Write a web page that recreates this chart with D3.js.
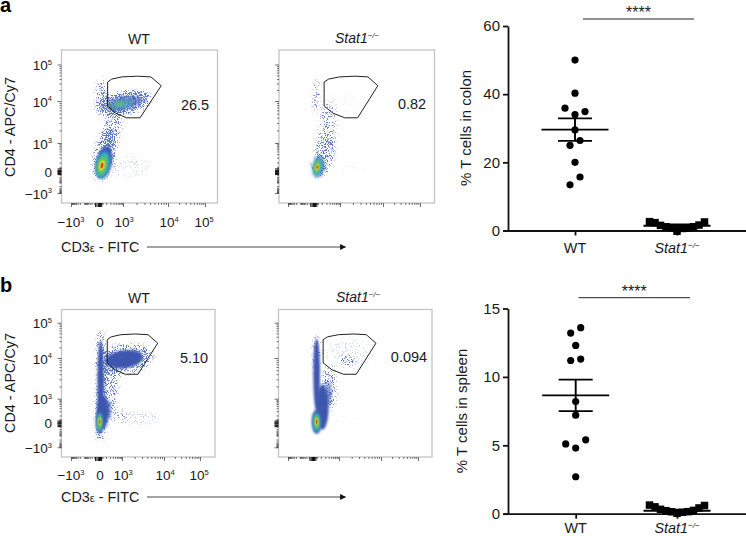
<!DOCTYPE html>
<html><head><meta charset="utf-8">
<script src="https://cdn.jsdelivr.net/npm/d3@7"></script>
<style>html,body{margin:0;padding:0;background:#fff}svg{display:block}text{font-family:"Liberation Sans",Arial,sans-serif;fill:#1a1a1a}</style>
</head><body><svg id="c" width="746" height="536"></svg>
<script>
// ---- data ----
const flowTicks = [-1, 0, 1, 2, 3];               // channels: -10^3, 0, 10^3, 10^4, 10^5
const flowTickLabels = [["\u221210","3"],["0",""],["10","3"],["10","4"],["10","5"]];
const gate = [[.36,2.52],[.53,2.6],[.95,2.66],[1.32,2.68],[1.62,2.66],[1.85,2.42],[1.38,1.6],[1.08,1.6],[.7,1.71],[.36,1.88]];
// density blobs: [cx, cy, rx, ry, rotation, density level]  (channel units)
// number = stippled event density; letters = dense colour bands of the pseudocolour plot
const blobsA_WT = [
 [1.02,1.95,.6,.3,-12,.66],[.1,2.12,.2,.5,0,.42],[.55,1.32,.34,.72,10,.4],[.25,.6,.42,.78,12,.5],[1.15,.15,.45,.42,0,.08],
 [1.02,1.95,.42,.17,-10,"bs"],[.95,1.93,.3,.1,-10,"cs"],[.85,1.93,.18,.055,-10,"gs"],
 [.2,.3,.33,.58,12,"b"],[.16,.22,.27,.48,12,"c"],[.13,.2,.19,.34,12,"g"],[.125,.2,.11,.2,12,"y"],[.125,.2,.05,.1,12,"r"]];
const blobsA_KO = [
 [.1,2.12,.13,.48,0,.34],[.5,1.3,.34,.72,5,.28],[.4,.6,.36,.6,8,.36],[.2,.1,.3,.3,8,.45],[1.3,.1,.3,.2,0,.03],[1.1,2.0,.4,.25,0,.03],
 [.18,.16,.22,.4,8,"bs"],[.14,.14,.17,.33,8,"c"],[.12,.14,.11,.23,8,"g"],[.12,.14,.06,.13,8,"y"],[.12,.14,.03,.065,8,"r"]];
const blobsB_WT = [
 [1.05,1.97,.68,.4,-8,.5],[.07,2.35,.14,.42,0,.55],[.12,1.1,.2,1.2,2,.7],[.5,1.25,.34,.6,8,.36],[.6,.3,.5,.35,0,.22],[1.4,.18,.45,.3,0,.12],
 [1.05,1.97,.45,.25,-8,"b"],[.07,1.35,.14,1.15,0,"b"],[.16,.42,.27,.65,2,"b"],[.42,.55,.12,.4,0,"bs"],
 [.03,.04,.17,.5,0,"b"],[.03,.02,.12,.4,0,"c"],[.03,.03,.085,.28,0,"g"],[.03,.04,.05,.17,0,"y"],[.03,.04,.025,.08,0,"r"]];
const blobsB_KO = [
 [.14,2.1,.13,.55,0,.45],[.62,1.25,.26,.55,0,.4],[1.1,.1,.35,.2,0,.03],[1.2,2.1,.6,.42,0,.09],[1.21,1.95,.17,.12,0,.5],
 [.14,1.6,.13,.95,0,"b"],[.36,.65,.24,.7,0,"b"],[.6,1.15,.11,.28,0,"bs"],
 [.14,.04,.19,.5,0,"b"],[.14,.02,.14,.4,0,"c"],[.14,.03,.09,.28,0,"g"],[.14,.04,.05,.17,0,"y"],[.14,.04,.025,.08,0,"r"]];

const categories = ["WT","Stat1"];
const colonWT     = [50,40.3,35.9,34.9,34,29.5,26.4,25,20,15.7,13.4];
const colonWTSlot = [0,0,-2,2,0,0,1,-1,0,1,-1];
const colonKO     = [2.6,2.3,1.5,1.1,.8,-.2,.6,.8,1.1,1.6,2.5];
const spleenWT     = [13.6,13.2,12.3,11.3,11.2,8.2,7.2,5.4,5.1,4.8,2.7];
const spleenWTSlot = [1,-1,0,1,-1,0,0,2,-2,0,0];
const spleenKO     = [.63,.5,.32,.22,.14,.03,.1,.15,.24,.42,.6];
const koSlot       = [-5.5,-4.4,-3.3,-2.2,-1.1,0,1.1,2.2,3.3,4.4,5.5];
const colonStats  = {WT:[29.6,26.3,32.9], KO:[1.4,.9,1.8]};
const spleenStats = {WT:[8.65,7.5,9.8],   KO:[.22,.14,.3]};

// ---- layout ----
const svg = d3.select("#c");
const defs = svg.append("defs");
const levelColor = {b:"#3c56ae",bs:"#3c56ae",c:"#35b5c8",cs:"#3fb0c0",g:"#62c04e",gs:"#68c06a",y:"#f2dc2e",r:"#e4301f"};
const levelOpacity = {bs:.6,cs:.6,gs:.75};
const blurBy = {b:1.2,bs:1.8,c:1.4,cs:1.6,g:1.3,gs:1.4,y:1,r:.7};

const blur = (id,s)=>defs.append("filter").attr("id",id).attr("x","-60%").attr("y","-60%").attr("width","220%").attr("height","220%")
  .append("feGaussianBlur").attr("stdDeviation",s);
Object.entries(blurBy).forEach(([k,s])=>blur("blur"+k,s));

// stippled density: blurred alpha + fine noise, thresholded into single-pixel events
const f = defs.append("filter").attr("id","stipple").attr("filterUnits","userSpaceOnUse")
  .attr("x",0).attr("y",0).attr("width",746).attr("height",536).attr("color-interpolation-filters","sRGB");
f.append("feGaussianBlur").attr("in","SourceGraphic").attr("stdDeviation",2.4).attr("result","den");
f.append("feTurbulence").attr("type","fractalNoise").attr("baseFrequency",1.1).attr("numOctaves",2).attr("seed",7).attr("result","n0");
f.append("feColorMatrix").attr("in","n0").attr("type","matrix")
  .attr("values","0 0 0 0 0  0 0 0 0 0  0 0 0 0 0  3.2 0 0 0 -1.1").attr("result","noise");
f.append("feComposite").attr("in","den").attr("in2","noise").attr("operator","arithmetic")
  .attr("k1",0).attr("k2",1).attr("k3",.95).attr("k4",-.95).attr("result","sum");
const ct = f.append("feComponentTransfer").attr("in","sum").attr("result","dots");
ct.append("feFuncA").attr("type","linear").attr("slope",3.5).attr("intercept",0);
f.append("feFlood").attr("flood-color","#5a76c4").attr("result","col");
f.append("feComposite").attr("in","col").attr("in2","dots").attr("operator","in");

function sup(sel, base, exp, italic){
  if(italic){ sel.append("tspan").attr("font-style","italic").text(base); }
  else sel.append("tspan").text(base);
  if(exp){
    const fs = parseFloat(sel.attr("font-size"));
    sel.append("tspan").attr("font-size",fs*.56).attr("dy",-fs*.38).attr("font-style",italic?"italic":null).text(exp);
  }
}
const KO_SUP = "\u2212/\u2212";

function logMinor(lo,hi){
  const out=[];
  for(let d=lo;d<hi;d++) for(let k=2;k<10;k++) out.push(d+Math.log10(k));
  return out;
}
const minorX = logMinor(1,3);
const negMinor = d3.range(2,10).map(k=>-Math.log10(k)*.55).concat(d3.range(2,10).map(k=>-.55-Math.log10(k)*.45));
const posLow = d3.range(2,10).map(k=>Math.log10(k)).concat([.05,.1,.15]);

function flow(cfg){
  const x = d3.scaleLinear().domain(flowTicks).range(cfg.xr);
  const y = d3.scaleLinear().domain(flowTicks).range(cfg.yr);
  const [L,R,T,B] = cfg.box;
  const g = svg.append("g");
  const clipId = "clip"+cfg.id;
  defs.append("clipPath").attr("id",clipId).append("rect").attr("x",L).attr("y",T).attr("width",R-L).attr("height",B-T);

  const ell = (sel,d)=>sel.attr("cx",x(d[0])).attr("cy",y(d[1]))
     .attr("rx",Math.abs(x(d[0]+d[2])-x(d[0]))).attr("ry",Math.abs(y(d[1]+d[3])-y(d[1])))
     .attr("transform",`rotate(${d[4]} ${x(d[0])} ${y(d[1])})`);

  const plot = g.append("g").attr("clip-path",`url(#${clipId})`);
  const sparse = plot.append("g").attr("filter","url(#stipple)");
  cfg.blobs.filter(d=>typeof d[5]==="number").forEach(d=>{
    sparse.append("ellipse").call(ell,d).attr("fill","#000").attr("fill-opacity",d[5]);
  });
  cfg.blobs.filter(d=>typeof d[5]==="string").forEach(d=>{
    plot.append("ellipse").call(ell,d).attr("fill",levelColor[d[5]])
      .attr("fill-opacity",levelOpacity[d[5]]||1).attr("filter",`url(#blur${d[5]})`);
  });

  g.append("rect").attr("x",L).attr("y",T).attr("width",R-L).attr("height",B-T)
    .attr("fill","none").attr("stroke","#c4c4c4").attr("stroke-width",1.3);

  const minorAll = [...negMinor,...posLow,...minorX];
  const ax = g.append("g").attr("transform",`translate(0,${B})`)
     .call(d3.axisBottom(x).tickValues(flowTicks).tickSize(4).tickFormat(""));
  const axm = g.append("g").attr("transform",`translate(0,${B})`)
     .call(d3.axisBottom(x).tickValues(minorAll.filter(v=>x(v)>L && x(v)<R)).tickSize(2).tickFormat(""));
  const ay = g.append("g").attr("transform",`translate(${L},0)`)
     .call(d3.axisLeft(y).tickValues(flowTicks).tickSize(4).tickFormat(""));
  const aym = g.append("g").attr("transform",`translate(${L},0)`)
     .call(d3.axisLeft(y).tickValues(minorAll.filter(v=>y(v)>T && y(v)<B)).tickSize(2).tickFormat(""));
  [ax,axm,ay,aym].forEach(a=>{a.select(".domain").remove(); a.selectAll("line").attr("stroke","#333").attr("stroke-width",.7);});
  const clump=[-.14,-.09,-.04,0,.04,.09];
  const cx = g.append("g").attr("transform",`translate(0,${B})`).call(d3.axisBottom(x).tickValues(clump).tickSize(4).tickFormat(""));
  const cy = g.append("g").attr("transform",`translate(${L},0)`).call(d3.axisLeft(y).tickValues(clump).tickSize(4).tickFormat(""));
  [cx,cy].forEach(a=>{a.select(".domain").remove(); a.selectAll("line").attr("stroke","#111").attr("stroke-width",1);});

  if(cfg.labels){
    flowTicks.forEach((t,i)=>{
      const [b,e]=flowTickLabels[i];
      g.append("text").attr("font-size",13.5).attr("text-anchor","middle").attr("x",x(t)+(i==0?0:i==1?1:i==4?-1:1)).attr("y",cfg.xLabY).call(sup,b,e);
      g.append("text").attr("font-size",13.5).attr("text-anchor","end").attr("x",cfg.yLabX).attr("y",y(t)+5.5).call(sup,b,e);
    });
  }
  g.append("path").attr("d",d3.line().x(d=>x(d[0]+cfg.gdx)).y(d=>y(d[1])).curve(d3.curveLinearClosed)(gate))
    .attr("fill","none").attr("stroke","#222").attr("stroke-width",1);
  const title = g.append("text").attr("font-size",14).attr("text-anchor","middle").attr("x",cfg.titleX).attr("y",cfg.titleY);
  if(cfg.ko) title.call(sup,"Stat1",KO_SUP,true); else title.text("WT");
  g.append("text").attr("font-size",14.5).attr("text-anchor","middle").attr("x",cfg.pctX).attr("y",cfg.pctY).text(cfg.pct);
}

flow({id:"a1",xr:[71,99,123,168,205],yr:[193,171,143,101,64.5],box:[61.5,217.5,50,203],blobs:blobsA_WT,labels:true,xLabY:227,yLabX:52,gdx:0,titleX:139,titleY:44,pct:"26.5",pctX:195,pctY:110});
flow({id:"a2",xr:[288,314,340,383,420],yr:[193,171,143,101,64.5],box:[279,434.5,50,203],blobs:blobsA_KO,labels:false,gdx:.03,titleX:357,titleY:43,pct:"0.82",pctX:412,pctY:109,ko:true});
flow({id:"b1",xr:[71,99,122,164,200],yr:[447.3,422.7,398.7,358,322.7],box:[61.5,215,309.5,457],blobs:blobsB_WT,labels:true,xLabY:480,yLabX:52,gdx:0,titleX:139,titleY:303,pct:"5.10",pctX:194,pctY:363});
flow({id:"b2",xr:[288,313,339,381,418],yr:[447.3,422.7,398.7,358,322.7],box:[278.5,432,309.5,457],blobs:blobsB_KO,labels:false,gdx:.03,titleX:358,titleY:302,pct:"0.094",pctX:409,pctY:362,ko:true});

// shared flow labels
[127,383].forEach(cy=>{
  svg.append("text").attr("font-size",14.4).attr("text-anchor","middle")
    .attr("transform",`translate(14.5,${cy}) rotate(-90)`).text("CD4 - APC/Cy7");
});
defs.append("marker").attr("id","arrow").attr("viewBox","0 0 10 10").attr("refX",9).attr("refY",5)
  .attr("markerWidth",6).attr("markerHeight",6).attr("markerUnits","userSpaceOnUse").attr("orient","auto")
  .append("path").attr("d","M0 0L10 5L0 10Z").attr("fill","#111");
[252,502].forEach(yy=>{
  const t = svg.append("text").attr("font-size",14.4).attr("x",61).attr("y",yy);
  t.append("tspan").text("CD3");
  t.append("tspan").attr("font-size",11).text("\u03b5");
  t.append("tspan").text(" - FITC");
  svg.append("line").attr("x1",147).attr("x2",345.5).attr("y1",yy-5).attr("y2",yy-5)
    .attr("stroke","#333").attr("stroke-width",.9).attr("marker-end","url(#arrow)");
});
svg.append("text").attr("x",0).attr("y",12).attr("font-size",20).attr("font-weight","bold").style("fill","#000").text("a");
svg.append("text").attr("x",0).attr("y",292).attr("font-size",20).attr("font-weight","bold").style("fill","#000").text("b");

// dot plots
function dots(cfg){
  const g = svg.append("g");
  const y = d3.scaleLinear().domain(cfg.domain).range(cfg.yr);
  const xc = d3.scalePoint().domain(categories).range(cfg.xc);
  const slot = d3.scaleLinear().domain([-1,1]).range([-5,5]);
  const axisY = g.append("g").attr("transform",`translate(${cfg.axX},0)`)
    .call(d3.axisLeft(y).tickValues(cfg.ticks).tickSize(5).tickSizeOuter(0).tickPadding(3));
  axisY.select(".domain").attr("stroke-width",1.8).attr("stroke","#111");
  axisY.selectAll("line").attr("stroke-width",1.8).attr("stroke","#111");
  axisY.selectAll("text").attr("font-size",15).style("font-family",'"Liberation Sans",Arial,sans-serif').style("fill","#1a1a1a");
  const xb = d3.scaleLinear().domain([0,1]).range([cfg.axX-5,746]);
  const axisX = g.append("g").attr("transform",`translate(0,${y(0)})`)
    .call(d3.axisBottom(xb).tickValues([]).tickSize(0));
  axisX.select(".domain").attr("stroke-width",1.8).attr("stroke","#111");
  const tk = g.append("g").attr("transform",`translate(0,${y(0)})`)
    .call(d3.axisBottom(xc).tickSize(5).tickFormat(""));
  tk.select(".domain").remove(); tk.selectAll("line").attr("stroke-width",1.8).attr("stroke","#111");

  g.append("g").selectAll("circle").data(cfg.wt).join("circle")
    .attr("cx",(d,i)=>xc("WT")+slot(cfg.wtSlot[i])).attr("cy",d=>y(d)).attr("r",3.6).attr("fill","#000");
  const sq=7.5;
  g.append("g").selectAll("rect").data(cfg.ko).join("rect")
    .attr("x",(d,i)=>xc("Stat1")+slot(koSlot[i])-sq/2).attr("y",d=>y(d)-sq/2).attr("width",sq).attr("height",sq).attr("fill","#000");

  const stat = (cat,[m,lo,hi])=>{
    const c=xc(cat), line=(a,v)=>g.append("line").attr("x1",c-a).attr("x2",c+a).attr("y1",y(v)).attr("y2",y(v)).attr("stroke","#000").attr("stroke-width",1.9);
    line(33.5,m); line(17,lo); line(17,hi);
    g.append("line").attr("x1",c).attr("x2",c).attr("y1",y(lo)).attr("y2",y(hi)).attr("stroke","#000").attr("stroke-width",1.9);
  };
  stat("WT",cfg.stats.WT); stat("Stat1",cfg.stats.KO);

  g.append("text").attr("font-size",14.4).attr("text-anchor","middle").attr("x",xc("WT")).attr("y",cfg.catY).text("WT");
  g.append("text").attr("font-size",14.4).attr("text-anchor","middle").attr("x",xc("Stat1")).attr("y",cfg.catY).call(sup,"Stat1",KO_SUP,true);
  g.append("text").attr("font-size",15).attr("text-anchor","middle")
    .attr("transform",`translate(${cfg.labX},${cfg.labY}) rotate(-90)`).text(cfg.label);
  g.append("line").attr("x1",cfg.br[0]).attr("x2",cfg.br[1]).attr("y1",cfg.brY).attr("y2",cfg.brY).attr("stroke","#222").attr("stroke-width",1);
  g.append("text").attr("font-size",16).attr("text-anchor","middle").attr("x",(cfg.br[0]+cfg.br[1])/2).attr("y",cfg.brY-1).text("****");
}
dots({domain:[0,60],yr:[230.5,26],ticks:[0,20,40,60],axX:508,xc:[575,677],wt:colonWT,wtSlot:colonWTSlot,ko:colonKO,stats:colonStats,catY:253,label:"% T cells in colon",labX:470.5,labY:128,br:[583,694],brY:19});
dots({domain:[0,15],yr:[513.7,308.5],ticks:[0,5,10,15],axX:508,xc:[575.7,677],wt:spleenWT,wtSlot:spleenWTSlot,ko:spleenKO,stats:spleenStats,catY:533,label:"% T cells in spleen",labX:467,labY:411,br:[578.5,690],brY:297.7});
</script></body></html>
